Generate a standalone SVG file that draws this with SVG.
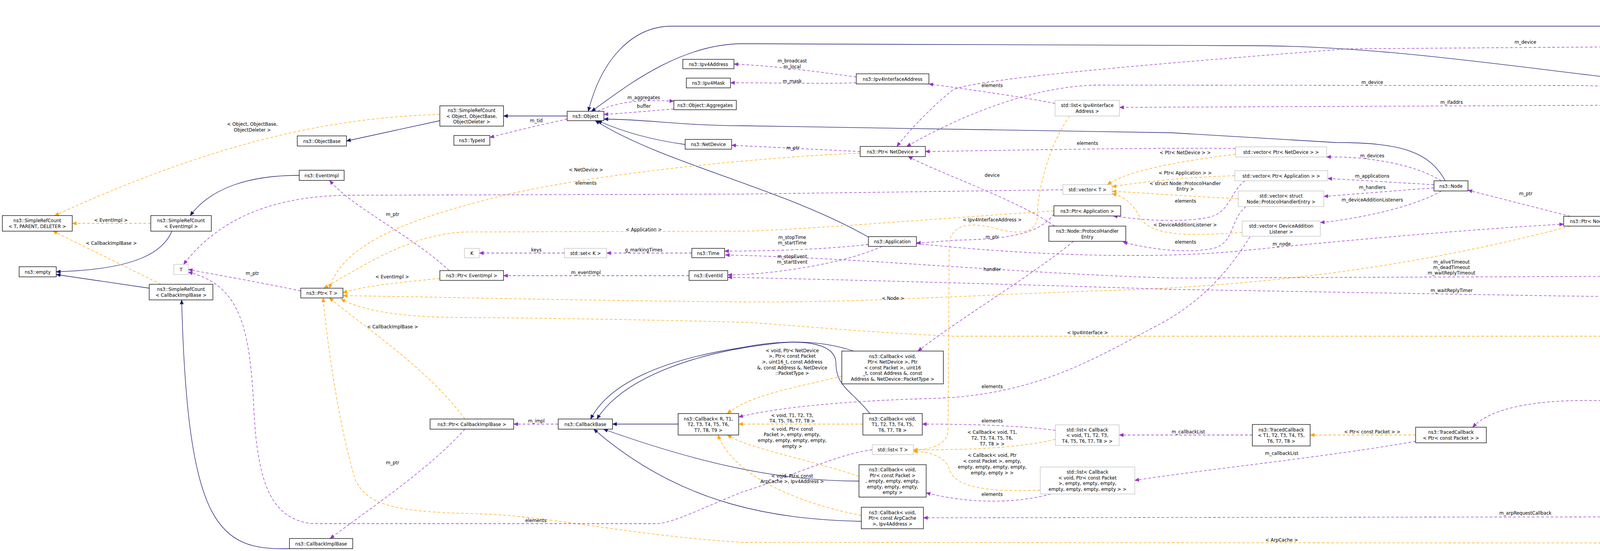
<svg xmlns="http://www.w3.org/2000/svg" width="5160" height="1411" viewBox="0 0 5160 1411">
<style>
text{font-family:"DejaVu Sans Condensed","Liberation Sans",sans-serif;font-size:13px;fill:#000}
.n text{text-anchor:middle}
.b{fill:#fff;stroke:#000;stroke-width:1.3}
.g{fill:#fff;stroke:#bfbfbf;stroke-width:1.3}
.f{fill:#bfbfbf;stroke:#000;stroke-width:1.3}
.e path{fill:none;stroke-width:1.3}
.i{stroke:#191970;marker-end:url(#ai)}
.t{stroke:#ffa500;stroke-dasharray:7,5;marker-end:url(#at)}
.m{stroke:#9a32cd;stroke-dasharray:7,5;marker-end:url(#am)}
.l text{text-anchor:middle}
</style>
<defs>
<marker id="ai" markerWidth="12" markerHeight="10" refX="11" refY="5" orient="auto" markerUnits="userSpaceOnUse"><path d="M0,0L12,5L0,10z" fill="#191970"/></marker>
<marker id="at" markerWidth="12" markerHeight="10" refX="11" refY="5" orient="auto" markerUnits="userSpaceOnUse"><path d="M0,0L12,5L0,10z" fill="#ffa500"/></marker>
<marker id="am" markerWidth="12" markerHeight="10" refX="11" refY="5" orient="auto" markerUnits="userSpaceOnUse"><path d="M0,0L12,5L0,10z" fill="#9a32cd"/></marker>
</defs>
<g id="edges" class="e">
<path class="i" d="M440,592C420,640 360,690 144,696"/>
<path class="i" d="M382,738L144,703"/>
<path class="i" d="M766,449C640,449 540,480 487,552"/>
<path class="i" d="M1126,309L887,361"/>
<path class="i" d="M1452,297L1289,297"/>
<path class="i" d="M4840,760C4800,400 4760,67 4560,67L1720,67C1620,67 1540,150 1506,285"/>
<path class="i" d="M4290,233C4240,205 4200,200 4100,196C3800,160 3500,117 3200,117L1900,112C1730,112 1580,240 1514,285"/>
<path class="i" d="M3700,463C3660,390 3590,365 3420,365L3000,340L1900,322C1750,322 1650,305 1546,305"/>
<path class="i" d="M1754,370C1680,360 1600,340 1530,309"/>
<path class="i" d="M2223,607C2000,480 1700,420 1524,309"/>
<path class="i" d="M1736,1086L1568,1086"/>
<path class="i" d="M2185,899C2100,870 2000,870 1900,890C1700,920 1560,980 1512,1073"/>
<path class="i" d="M2227,1059C2180,1000 2140,990 2140,930C2140,880 2060,870 1980,880C1800,900 1600,960 1528,1073"/>
<path class="i" d="M2199,1232C2000,1232 1800,1190 1545,1099"/>
<path class="i" d="M2205,1335C2000,1330 1750,1300 1520,1099"/>
<path class="i" d="M741,1405C560,1410 480,1350 465,768"/>
<path class="t" d="M1126,293C900,300 600,340 140,552"/>
<path class="t" d="M386,572L185,572"/>
<path class="t" d="M412,728L136,592"/>
<path class="t" d="M2202,392C1900,405 1500,450 1290,500C1050,560 880,620 843,738"/>
<path class="t" d="M2698,540C2400,560 2000,592 1900,592L1190,594C1050,600 930,680 829,738"/>
<path class="t" d="M1126,713C1000,725 920,735 878,750"/>
<path class="t" d="M4020,579C3600,690 3200,735 2800,745C2400,760 2200,775 1900,773C1500,770 1200,762 878,757"/>
<path class="t" d="M4505,837C4450,855 4350,861 4300,861L2440,861C2200,850 2000,830 1900,825C1500,815 1200,813 1190,813C1000,813 920,790 873,766"/>
<path class="t" d="M1190,1073C1100,950 950,850 843,763"/>
<path class="t" d="M5070,786C5040,1000 5000,1391 4850,1391L1900,1389C1600,1370 1400,1318 1200,1315C1000,1310 940,1290 910,1230C870,1100 840,900 827,763"/>
<path class="t" d="M3163,395C3000,415 2880,440 2835,473"/>
<path class="t" d="M3161,450C3000,455 2900,470 2847,478"/>
<path class="t" d="M3170,509C3000,500 2900,492 2847,490"/>
<path class="t" d="M3180,595C3050,605 2950,605 2920,560C2900,520 2880,505 2847,496"/>
<path class="t" d="M2738,297C2680,380 2655,500 2655,560C2650,600 2600,600 2550,585C2490,570 2440,570 2430,620L2427,1100C2427,1140 2380,1152 2338,1152"/>
<path class="t" d="M2702,1125C2600,1150 2450,1152 2338,1152"/>
<path class="t" d="M2663,1255C2500,1262 2440,1240 2430,1200C2420,1170 2380,1156 2338,1156"/>
<path class="t" d="M2155,963C2050,990 1920,1010 1862,1059"/>
<path class="t" d="M2209,1086L1891,1086"/>
<path class="t" d="M2199,1220C2050,1170 1920,1150 1862,1114"/>
<path class="t" d="M2205,1320C2000,1280 1870,1200 1838,1114"/>
<path class="t" d="M3624,1114L3354,1114"/>
<path class="m" d="M1452,305C1380,320 1300,340 1254,352"/>
<path class="m" d="M1530,285C1580,260 1640,255 1725,259"/>
<path class="m" d="M1725,279C1650,285 1600,290 1546,293"/>
<path class="m" d="M2192,197C2100,185 2000,170 1879,164"/>
<path class="m" d="M2192,212C2100,215 2000,212 1870,212"/>
<path class="m" d="M2701,265C2600,245 2450,225 2378,215"/>
<path class="m" d="M4245,256C4150,270 4100,270 4000,270L2866,275"/>
<path class="m" d="M4245,236C4180,222 4100,219 4000,219L2800,218C2600,225 2400,330 2321,375"/>
<path class="m" d="M4830,760C4780,400 4760,117 4560,117L3450,125C3000,160 2500,200 2440,230C2400,260 2330,330 2296,375"/>
<path class="m" d="M3163,380C2900,378 2600,385 2369,388"/>
<path class="m" d="M2202,388L1873,372"/>
<path class="m" d="M2700,579C2600,510 2420,450 2325,401"/>
<path class="m" d="M3690,463C3620,420 3500,400 3396,402"/>
<path class="m" d="M3671,473L3399,457"/>
<path class="m" d="M3671,481L3389,503"/>
<path class="m" d="M3690,489C3620,530 3480,560 3380,570"/>
<path class="m" d="M4020,554L3758,487"/>
<path class="m" d="M3187,463C3150,490 3150,540 3100,555C3050,568 2950,568 2850,553"/>
<path class="m" d="M2698,548C2660,600 2580,612 2450,615C2400,618 2370,622 2346,622"/>
<path class="m" d="M3190,529C3150,560 3160,620 3110,635C3050,650 2950,640 2875,620"/>
<path class="m" d="M2223,626C2100,640 1950,643 1855,643"/>
<path class="m" d="M2258,631C2150,680 1950,705 1863,704"/>
<path class="m" d="M1764,706L1289,706"/>
<path class="m" d="M1150,693C1050,600 900,530 844,462"/>
<path class="m" d="M1771,648L1553,648"/>
<path class="m" d="M1445,648L1227,648"/>
<path class="m" d="M770,745C650,720 560,705 482,690"/>
<path class="m" d="M2721,486L1900,497L900,500C700,500 560,560 470,677"/>
<path class="m" d="M2233,1152C2150,1160 2000,1230 1900,1260C1800,1300 1720,1341 1680,1341L800,1341C700,1330 660,1250 650,1050C640,850 620,730 482,697"/>
<path class="m" d="M1190,1099C1100,1200 950,1300 845,1379"/>
<path class="m" d="M1429,1086L1315,1086"/>
<path class="m" d="M2748,618C2650,700 2450,820 2350,899"/>
<path class="m" d="M2702,1102C2600,1088 2450,1086 2361,1086"/>
<path class="m" d="M3206,1114L2865,1114"/>
<path class="m" d="M3624,1130C3400,1170 3100,1200 2905,1230"/>
<path class="m" d="M2690,1265C2600,1290 2480,1290 2371,1262"/>
<path class="m" d="M4868,786C4850,1000 4800,1323 4590,1323L2364,1326"/>
<path class="m" d="M4817,786C4740,900 4680,1026 4560,1026L4100,1026C3950,1022 3820,1040 3770,1094"/>
<path class="m" d="M4815,786C4770,810 4700,820 4655,824"/>
<path class="m" d="M4556,811C4500,600 4380,400 4322,258"/>
<path class="m" d="M4992,773L4901,773"/>
<path class="m" d="M4325,233C4450,100 4560,21 4670,21C4800,21 4950,250 5070,760"/>
<path class="m" d="M4300,258C4250,350 4150,460 4100,554"/>
<path class="m" d="M2346,624C2700,660 3000,662 3200,640C3500,610 3800,585 4003,574"/>
<path class="m" d="M3200,606C3130,720 3050,790 2950,840C2800,920 2650,1010 2400,1020C2200,1025 2000,1040 1891,1068"/>
<path class="m" d="M4800,760C4700,720 4500,707 4300,707L3000,712C2600,700 2200,660 1857,653"/>
<path class="m" d="M4787,772C4500,765 4200,760 4000,758L3000,741C2500,725 2100,715 1863,710"/>
</g>
<g id="edge-labels" class="l">
<text x="646" y="322">&lt; Object, ObjectBase,</text><text x="646" y="337">ObjectDeleter &gt;</text>
<text x="284" y="568">&lt; EventImpl &gt;</text>
<text x="285" y="627">&lt; CallbackImplBase &gt;</text>
<text x="646" y="704">m_ptr</text>
<text x="1373" y="1082">m_impl</text>
<text x="1005" y="1189">m_ptr</text>
<text x="1372" y="1337">elements</text>
<text x="1648" y="254">m_aggregates</text>
<text x="1648" y="276">buffer</text>
<text x="1373" y="313">m_tid</text>
<text x="1500" y="439">&lt; NetDevice &gt;</text>
<text x="1500" y="473">elements</text>
<text x="1005" y="553">m_ptr</text>
<text x="1648" y="592">&lt; Application &gt;</text>
<text x="1373" y="644">keys</text>
<text x="1648" y="644">g_markingTimes</text>
<text x="1004" y="713">&lt; EventImpl &gt;</text>
<text x="1500" y="702">m_eventImpl</text>
<text x="1005" y="841">&lt; CallbackImplBase &gt;</text>
<text x="2028" y="160">m_broadcast</text><text x="2028" y="175">m_local</text>
<text x="2028" y="212">m_mask</text>
<text x="2540" y="223">elements</text>
<text x="2030" y="383">m_ptr</text>
<text x="2784" y="371">elements</text>
<text x="2540" y="453">device</text>
<text x="2540" y="567">&lt; Ipv4InterfaceAddress &gt;</text>
<text x="2028" y="612">m_stopTime</text><text x="2028" y="626">m_startTime</text>
<text x="2540" y="611">m_ptr</text>
<text x="2028" y="661">m_stopEvent</text><text x="2028" y="675">m_startEvent</text>
<text x="2540" y="694">handler</text>
<text x="2286" y="768">&lt; Node &gt;</text>
<text x="2784" y="856">&lt; Ipv4Interface &gt;</text>
<text x="2028" y="902">&lt; void, Ptr&lt; NetDevice</text><text x="2028" y="916">&gt;, Ptr&lt; const Packet</text><text x="2028" y="931">&gt;, uint16_t, const Address</text><text x="2028" y="946">&amp;, const Address &amp;, NetDevice</text><text x="2028" y="960">::PacketType &gt;</text>
<text x="2540" y="994">elements</text>
<text x="2028" y="1068">&lt; void, T1, T2, T3,</text><text x="2028" y="1082">T4, T5, T6, T7, T8 &gt;</text>
<text x="2028" y="1103">&lt; void, Ptr&lt; const</text><text x="2028" y="1117">Packet &gt;, empty, empty,</text><text x="2028" y="1132">empty, empty, empty, empty,</text><text x="2028" y="1147">empty &gt;</text>
<text x="2540" y="1082">elements</text>
<text x="2540" y="1111">&lt; Callback&lt; void, T1,</text><text x="2540" y="1126">T2, T3, T4, T5, T6,</text><text x="2540" y="1141">T7, T8 &gt; &gt;</text>
<text x="2540" y="1170">&lt; Callback&lt; void, Ptr</text><text x="2540" y="1185">&lt; const Packet &gt;, empty,</text><text x="2540" y="1200">empty, empty, empty, empty,</text><text x="2540" y="1215">empty, empty &gt; &gt;</text>
<text x="2540" y="1270">elements</text>
<text x="2028" y="1223">&lt; void, Ptr&lt; const</text><text x="2028" y="1237">ArpCache &gt;, Ipv4Address &gt;</text>
<text x="3905" y="112">m_device</text>
<text x="3513" y="215">m_device</text>
<text x="3716" y="266">m_ifaddrs</text>
<text x="3034" y="395">&lt; Ptr&lt; NetDevice &gt; &gt;</text>
<text x="3034" y="447">&lt; Ptr&lt; Application &gt; &gt;</text>
<text x="3034" y="474">&lt; struct Node::ProtocolHandler</text><text x="3034" y="488">Entry &gt;</text>
<text x="3034" y="580">&lt; DeviceAdditionListener &gt;</text>
<text x="3513" y="403">m_devices</text>
<text x="3513" y="455">m_applications</text>
<text x="3513" y="484">m_handlers</text>
<text x="3513" y="516">m_deviceAdditionListeners</text>
<text x="3906" y="500">m_ptr</text>
<text x="3035" y="519">elements</text>
<text x="3035" y="624">elements</text>
<text x="3281" y="629">m_node</text>
<text x="3716" y="675">m_aliveTimeout</text><text x="3716" y="689">m_deadTimeout</text><text x="3716" y="703">m_waitReplyTimeout</text>
<text x="3716" y="748">m_waitReplyTimer</text>
<text x="3042" y="1110">m_callbackList</text>
<text x="3513" y="1110">&lt; Ptr&lt; const Packet &gt; &gt;</text>
<text x="3281" y="1165">m_callbackList</text>
<text x="3905" y="1318">m_arpRequestCallback</text>
<text x="3281" y="1387">&lt; ArpCache &gt;</text>
<text x="4722" y="15">m_cache</text>
<text x="4193" y="362">m_node</text>
<text x="4428" y="461">m_ptr</text>
<text x="4948" y="769">m_ptr</text>
<text x="4723" y="802">m_interface</text>
<text x="4315" y="1023">m_dropTrace</text>
</g>
<g id="n1" class="n"><rect class="b" x="6" y="552" width="179" height="40"/><text x="95.5" y="569">ns3::SimpleRefCount</text><text x="95.5" y="584">&lt; T, PARENT, DELETER &gt;</text></g>
<g id="n2" class="n"><rect class="b" x="49" y="683" width="95" height="26"/><text x="96.5" y="700.5">ns3::empty</text></g>
<g id="n3" class="n"><rect class="b" x="386" y="552" width="155" height="40"/><text x="463.5" y="569">ns3::SimpleRefCount</text><text x="463.5" y="584">&lt; EventImpl &gt;</text></g>
<g id="n4" class="n"><rect class="b" x="382" y="728" width="163" height="40"/><text x="463.5" y="745">ns3::SimpleRefCount</text><text x="463.5" y="760">&lt; CallbackImplBase &gt;</text></g>
<g id="n5" class="n"><rect class="b" x="761" y="348" width="126" height="26"/><text x="824" y="365.5">ns3::ObjectBase</text></g>
<g id="n6" class="n"><rect class="b" x="766" y="436" width="115" height="26"/><text x="823.5" y="453.5">ns3::EventImpl</text></g>
<g id="n7" class="n"><rect class="g" x="445" y="677" width="37" height="26"/><text x="463.5" y="694.5">T</text></g>
<g id="n8" class="n"><rect class="b" x="770" y="738" width="108" height="25"/><text x="824" y="755">ns3::Ptr&lt; T &gt;</text></g>
<g id="n9" class="n"><rect class="b" x="741" y="1379" width="162" height="26"/><text x="822" y="1396.5">ns3::CallbackImplBase</text></g>
<g id="n10" class="n"><rect class="b" x="1126" y="271" width="163" height="52"/><text x="1207.5" y="287">ns3::SimpleRefCount</text><text x="1207.5" y="301.5">&lt; Object, ObjectBase,</text><text x="1207.5" y="316">ObjectDeleter &gt;</text></g>
<g id="n11" class="n"><rect class="b" x="1452" y="285" width="94" height="24"/><text x="1499" y="301.5">ns3::Object</text></g>
<g id="n12" class="n"><rect class="b" x="1162" y="347" width="92" height="25"/><text x="1208" y="364">ns3::TypeId</text></g>
<g id="n13" class="n"><rect class="b" x="1748" y="152" width="131" height="24"/><text x="1813.5" y="168.5">ns3::Ipv4Address</text></g>
<g id="n14" class="n"><rect class="b" x="1757" y="200" width="113" height="25"/><text x="1813.5" y="217">ns3::Ipv4Mask</text></g>
<g id="n15" class="n"><rect class="b" x="1725" y="257" width="160" height="24"/><text x="1805" y="273.5">ns3::Object::Aggregates</text></g>
<g id="n16" class="n"><rect class="b" x="1754" y="357" width="119" height="25"/><text x="1813.5" y="374">ns3::NetDevice</text></g>
<g id="n17" class="n"><rect class="g" x="1189" y="636" width="38" height="24"/><text x="1208" y="652.5">K</text></g>
<g id="n18" class="n"><rect class="g" x="1445" y="636" width="108" height="24"/><text x="1499" y="652.5">std::set&lt; K &gt;</text></g>
<g id="n19" class="n"><rect class="b" x="1771" y="636" width="84" height="24"/><text x="1813" y="652.5">ns3::Time</text></g>
<g id="n20" class="n"><rect class="b" x="1126" y="693" width="163" height="25"/><text x="1207.5" y="710">ns3::Ptr&lt; EventImpl &gt;</text></g>
<g id="n21" class="n"><rect class="b" x="1764" y="693" width="99" height="25"/><text x="1813.5" y="710">ns3::EventId</text></g>
<g id="n22" class="n"><rect class="b" x="1101" y="1073" width="214" height="26"/><text x="1208" y="1090.5">ns3::Ptr&lt; CallbackImplBase &gt;</text></g>
<g id="n23" class="n"><rect class="b" x="1429" y="1073" width="139" height="26"/><text x="1498.5" y="1090.5">ns3::CallbackBase</text></g>
<g id="n24" class="n"><rect class="b" x="1736" y="1059" width="155" height="55"/><text x="1813.5" y="1076.5">ns3::Callback&lt; R, T1,</text><text x="1813.5" y="1091">T2, T3, T4, T5, T6,</text><text x="1813.5" y="1105.5">T7, T8, T9 &gt;</text></g>
<g id="n25" class="n"><rect class="b" x="2192" y="189" width="186" height="26"/><text x="2285" y="206.5">ns3::Ipv4InterfaceAddress</text></g>
<g id="n26" class="n"><rect class="g" x="2701" y="257" width="165" height="40"/><text x="2783.5" y="274">std::list&lt; Ipv4Interface</text><text x="2783.5" y="289">Address &gt;</text></g>
<g id="n27" class="n"><rect class="b" x="2202" y="375" width="167" height="26"/><text x="2285.5" y="392.5">ns3::Ptr&lt; NetDevice &gt;</text></g>
<g id="n28" class="n"><rect class="g" x="2721" y="473" width="126" height="25"/><text x="2784" y="490">std::vector&lt; T &gt;</text></g>
<g id="n29" class="n"><rect class="b" x="2698" y="527" width="171" height="26"/><text x="2783.5" y="544.5">ns3::Ptr&lt; Application &gt;</text></g>
<g id="n30" class="n"><rect class="b" x="2685" y="579" width="197" height="39"/><text x="2783.5" y="596">ns3::Node::ProtocolHandler</text><text x="2783.5" y="610.5">Entry</text></g>
<g id="n31" class="n"><rect class="b" x="2223" y="606" width="123" height="25"/><text x="2284.5" y="623">ns3::Application</text></g>
<g id="n32" class="n"><rect class="b" x="2155" y="899" width="260" height="84"/><text x="2285" y="916.5">ns3::Callback&lt; void,</text><text x="2285" y="931">Ptr&lt; NetDevice &gt;, Ptr</text><text x="2285" y="945.5">&lt; const Packet &gt;, uint16</text><text x="2285" y="960">_t, const Address &amp;, const</text><text x="2285" y="974.5">Address &amp;, NetDevice::PacketType &gt;</text></g>
<g id="n33" class="n"><rect class="b" x="2209" y="1059" width="152" height="55"/><text x="2285" y="1076.5">ns3::Callback&lt; void,</text><text x="2285" y="1091">T1, T2, T3, T4, T5,</text><text x="2285" y="1105.5">T6, T7, T8 &gt;</text></g>
<g id="n34" class="n"><rect class="g" x="2233" y="1139" width="105" height="25"/><text x="2285.5" y="1156">std::list&lt; T &gt;</text></g>
<g id="n35" class="n"><rect class="b" x="2199" y="1190" width="172" height="83"/><text x="2285" y="1207">ns3::Callback&lt; void,</text><text x="2285" y="1221.5">Ptr&lt; const Packet &gt;</text><text x="2285" y="1236">, empty, empty, empty,</text><text x="2285" y="1250.5">empty, empty, empty,</text><text x="2285" y="1265">empty &gt;</text></g>
<g id="n36" class="n"><rect class="b" x="2205" y="1299" width="159" height="55"/><text x="2284.5" y="1316.5">ns3::Callback&lt; void,</text><text x="2284.5" y="1331">Ptr&lt; const ArpCache</text><text x="2284.5" y="1345.5">&gt;, Ipv4Address &gt;</text></g>
<g id="n37" class="n"><rect class="g" x="2702" y="1088" width="163" height="53"/><text x="2783.5" y="1104.5">std::list&lt; Callback</text><text x="2783.5" y="1119">&lt; void, T1, T2, T3,</text><text x="2783.5" y="1133.5">T4, T5, T6, T7, T8 &gt; &gt;</text></g>
<g id="n38" class="n"><rect class="g" x="2663" y="1196" width="242" height="69"/><text x="2784" y="1213">std::list&lt; Callback</text><text x="2784" y="1227.5">&lt; void, Ptr&lt; const Packet</text><text x="2784" y="1242">&gt;, empty, empty, empty,</text><text x="2784" y="1256.5">empty, empty, empty, empty &gt; &gt;</text></g>
<g id="n39" class="n"><rect class="g" x="3163" y="376" width="233" height="26"/><text x="3279.5" y="393.5">std::vector&lt; Ptr&lt; NetDevice &gt; &gt;</text></g>
<g id="n40" class="n"><rect class="g" x="3161" y="437" width="238" height="26"/><text x="3280" y="454.5">std::vector&lt; Ptr&lt; Application &gt; &gt;</text></g>
<g id="n41" class="n"><rect class="g" x="3170" y="489" width="219" height="40"/><text x="3279.5" y="506">std::vector&lt; struct</text><text x="3279.5" y="521">Node::ProtocolHandlerEntry &gt;</text></g>
<g id="n42" class="n"><rect class="g" x="3180" y="566" width="200" height="39"/><text x="3280" y="583">std::vector&lt; DeviceAddition</text><text x="3280" y="597.5">Listener &gt;</text></g>
<g id="n43" class="n"><rect class="b" x="3671" y="463" width="87" height="26"/><text x="3714.5" y="480.5">ns3::Node</text></g>
<g id="n44" class="n"><rect class="b" x="4003" y="554" width="135" height="25"/><text x="4070.5" y="571">ns3::Ptr&lt; Node &gt;</text></g>
<g id="n45" class="n"><rect class="b" x="3206" y="1087" width="148" height="55"/><text x="3280" y="1104.5">ns3::TracedCallback</text><text x="3280" y="1119">&lt; T1, T2, T3, T4, T5,</text><text x="3280" y="1133.5">T6, T7, T8 &gt;</text></g>
<g id="n46" class="n"><rect class="b" x="3624" y="1094" width="181" height="40"/><text x="3714.5" y="1111">ns3::TracedCallback</text><text x="3714.5" y="1126">&lt; Ptr&lt; const Packet &gt; &gt;</text></g>
<g id="n47" class="n"><rect class="f" x="4245" y="233" width="136" height="25"/><text x="4313" y="250">ns3::Ipv4Interface</text></g>
<g id="n48" class="n"><rect class="b" x="4787" y="760" width="114" height="26"/><text x="4844" y="777.5">ns3::ArpCache</text></g>
<g id="n49" class="n"><rect class="b" x="4992" y="760" width="163" height="26"/><text x="5073.5" y="777.5">ns3::Ptr&lt; ArpCache &gt;</text></g>
<g id="n50" class="n"><rect class="b" x="4472" y="811" width="183" height="26"/><text x="4563.5" y="828.5">ns3::Ptr&lt; Ipv4Interface &gt;</text></g>
</svg>
